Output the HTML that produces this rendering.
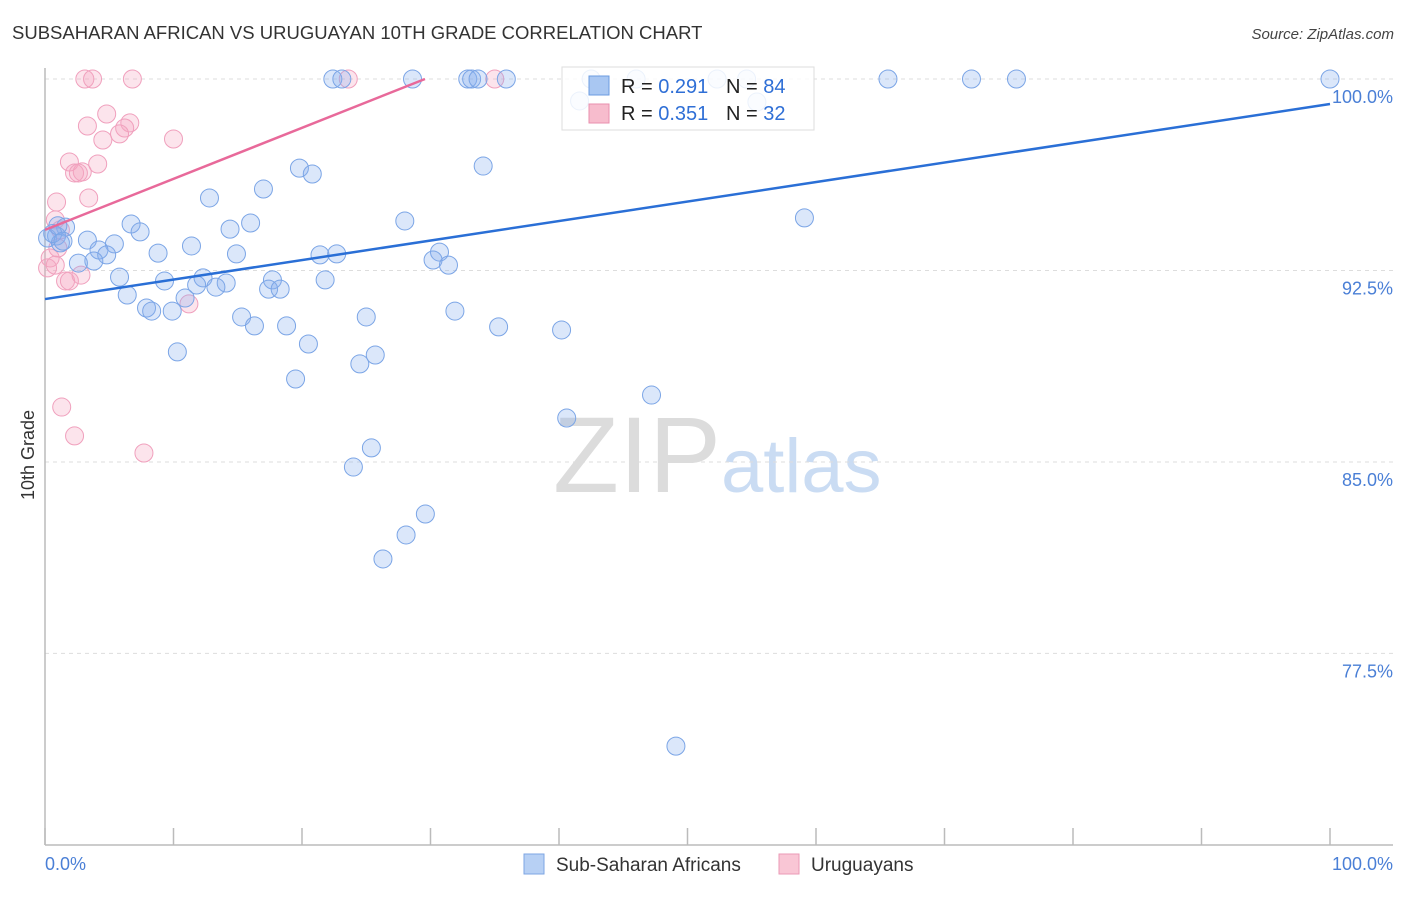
<!DOCTYPE html>
<html><head><meta charset="utf-8">
<style>
body{margin:0;background:#fff;font-family:"Liberation Sans",sans-serif;}
svg text{font-family:"Liberation Sans",sans-serif;}
</style></head>
<body>
<svg id="chart" width="1406" height="892" viewBox="0 0 1406 892">
<text x="12" y="39" font-size="18.5" fill="#333">SUBSAHARAN AFRICAN VS URUGUAYAN 10TH GRADE CORRELATION CHART</text>
<text x="1394" y="39" font-size="15" fill="#444" text-anchor="end" font-style="italic">Source: ZipAtlas.com</text>
<text x="553" y="492" font-size="108" font-family="Liberation Serif" fill="#dcdcdc">ZIP<tspan fill="#cadcf3" font-family="Liberation Sans" font-size="76">atlas</tspan></text>
<text transform="translate(34,455) rotate(-90)" font-size="18" fill="#333" text-anchor="middle">10th Grade</text>
<g id="grid"></g><g id="ticks"></g>
<line x1="45" y1="68" x2="45" y2="845" stroke="#bbb" stroke-width="1.5"/>
<line x1="45" y1="845" x2="1393" y2="845" stroke="#bbb" stroke-width="1.5"/>
<g id="pts"></g><g id="trends"></g>
<g>
<rect x="562" y="67" width="252" height="63" fill="#fff" fill-opacity="0.85" stroke="#ddd"/>
<rect x="589" y="76" width="20" height="19" fill="#a9c7f2" stroke="#6b9be0"/>
<rect x="589" y="104" width="20" height="19" fill="#f7bccd" stroke="#e88fae"/>
<text x="621" y="93" font-size="20" fill="#222">R = <tspan fill="#2f6fd6">0.291</tspan></text>
<text x="726" y="93" font-size="20" fill="#222">N = <tspan fill="#2f6fd6">84</tspan></text>
<text x="621" y="120" font-size="20" fill="#222">R = <tspan fill="#2f6fd6">0.351</tspan></text>
<text x="726" y="120" font-size="20" fill="#222">N = <tspan fill="#2f6fd6"> 32</tspan></text>
</g>
<g>
<rect x="524" y="854" width="20" height="20" fill="#b7d0f4" stroke="#7ea6e3"/>
<text x="556" y="871" font-size="19" fill="#333">Sub-Saharan Africans</text>
<rect x="779" y="854" width="20" height="20" fill="#f9c6d5" stroke="#eb9ab6"/>
<text x="811" y="871" font-size="19" fill="#333">Uruguayans</text>
</g>
</svg>
<script>
const blueX=[22.4,23.1,28.6,32.9,33.2,33.7,35.9,42.5,46.0,52.3,54.6,65.6,72.1,75.6,100,41.6,55.4,34.1,19.8,20.8,17.0,12.8,59.1,28.0,6.7,16.0,1.6,7.4,14.4,0.9,3.3,5.4,11.4,4.2,8.8,14.9,21.4,22.7,30.7,4.8,30.2,31.4,3.8,2.6,5.8,12.3,9.3,17.7,21.8,14.1,11.8,13.3,17.4,18.3,6.4,10.9,7.9,8.3,9.9,31.9,15.3,25.0,16.3,18.8,35.3,40.2,20.5,10.3,25.7,24.5,19.5,47.2,40.6,25.4,24.0,29.6,28.1,26.3,49.1,0.2,1.2,0.6,1.0,1.4];
const blueY=[100,100,100,100,100,100,100,100,100,100,100,100,100,100,100,99.14,99.10,96.59,96.51,96.28,95.69,95.34,94.56,94.44,94.32,94.36,94.20,94.01,94.12,93.85,93.69,93.54,93.46,93.30,93.18,93.15,93.11,93.15,93.22,93.11,92.91,92.71,92.87,92.79,92.24,92.21,92.09,92.13,92.13,92.01,91.93,91.85,91.77,91.77,91.54,91.42,91.03,90.91,90.91,90.91,90.68,90.68,90.33,90.33,90.29,90.17,89.62,89.31,89.19,88.84,88.25,87.62,86.72,85.55,84.80,82.96,82.14,81.20,73.87,93.77,93.58,93.95,94.25,93.65];
const pinkX=[3.1,3.7,6.8,23.6,35.0,4.8,3.3,6.6,6.2,5.8,4.5,10.0,1.9,4.1,2.3,2.9,2.6,3.4,0.9,0.8,1.2,0.4,0.2,0.8,2.8,1.6,1.9,11.2,1.3,2.3,7.7,1.0];
const pinkY=[100,100,100,100,100,98.63,98.16,98.28,98.08,97.85,97.61,97.65,96.75,96.67,96.32,96.36,96.32,95.34,95.18,94.48,94.09,92.99,92.60,92.71,92.32,92.09,92.09,91.19,87.15,86.02,85.35,93.38];
const blueTrend=[91.38,99.02];
const pinkTrend=[94.09,100,29.57];
const yTicks=[100,92.5,85,77.5];
const yTickLabels=["100.0%","92.5%","85.0%","77.5%"];
const xTickVals=[0,10,20,30,40,50,60,70,80,90,100];
const xEndLabels=["0.0%","100.0%"];
const NS="http://www.w3.org/2000/svg";
const sx=v=>45+v*12.85;
const sy=v=>79+(100-v)*25.53;
function mk(tag,attrs,parent){const e=document.createElementNS(NS,tag);for(const k in attrs)e.setAttribute(k,attrs[k]);document.getElementById(parent).appendChild(e);return e;}
yTicks.forEach((t,i)=>{
 const l=mk('line',{x1:45,x2:1393,y1:sy(t),y2:sy(t),stroke:'#ddd','stroke-dasharray':'4,4'},'grid');
 
 
 const tx=mk('text',{x:1393,y:sy(t)+24,'font-size':18,fill:'#4a7fd6','text-anchor':'end'},'grid');
 tx.textContent=yTickLabels[i];
 
 
});
xTickVals.forEach(v=>{
 const l=mk('line',{x1:sx(v),x2:sx(v),y1:828,y2:845,stroke:'#bbb','stroke-width':1.5},'ticks');
 
 
});
[[0,'start',45],[100,'end',1393]].forEach((a,i)=>{
 const tx=mk('text',{x:a[2],y:870,'font-size':18,fill:'#4a7fd6','text-anchor':a[1]},'ticks');
 tx.textContent=xEndLabels[i];
 
 
});
pinkX.forEach((x,i)=>{
 const c=mk('circle',{cx:sx(x),cy:sy(pinkY[i]),r:9,fill:'rgba(244,165,192,0.3)',stroke:'#f0a0bd','stroke-width':1},'pts');
 
 
});
blueX.forEach((x,i)=>{
 const c=mk('circle',{cx:sx(x),cy:sy(blueY[i]),r:9,fill:'rgba(135,175,238,0.3)',stroke:'#7ba5e6','stroke-width':1},'pts');
 
 
});
const bl=mk('line',{x1:sx(0),y1:sy(blueTrend[0]),x2:sx(100),y2:sy(blueTrend[1]),stroke:'#2a6fd6','stroke-width':2.5},'trends');


const pl=mk('line',{x1:sx(0),y1:sy(pinkTrend[0]),x2:sx(pinkTrend[2]),y2:sy(pinkTrend[1]),stroke:'#e8699a','stroke-width':2.5},'trends');


</script>
</body></html>
